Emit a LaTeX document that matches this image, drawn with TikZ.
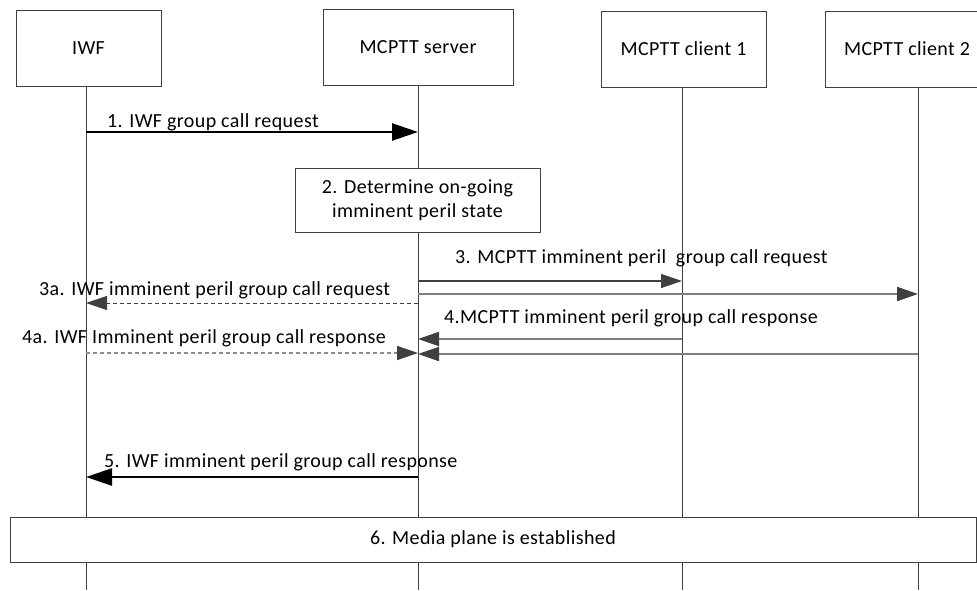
\documentclass[tikz,border=0pt]{standalone}
\usepackage{fontspec}
\setmainfont{Carlito}[LetterSpace=2]
\usepackage{tikz}
\usetikzlibrary{arrows.meta}
\definecolor{linegray}{HTML}{404040}
\definecolor{msggray}{HTML}{808080}
\definecolor{dashgray}{HTML}{8C8C8C}

\begin{document}
\begin{tikzpicture}[x=1pt, y=-1pt, every node/.style={font=\fontsize{20}{24}\selectfont},
    hdr/.style={draw=linegray, line width=1pt, fill=white, minimum height=76pt, inner sep=0pt},
    stepbox/.style={draw=linegray, line width=1pt, fill=white, align=center, inner sep=0pt},
    life/.style={draw=linegray, line width=0.9pt},
    lbl/.style={anchor=base west, inner sep=0pt},
    bigmsg/.style={line width=2.5pt, black, -{Triangle[length=26pt,width=17pt]}},
    darkmsg/.style={line width=1.3pt, linegray, -{Triangle[length=21pt,width=14pt]}},
    graymsg/.style={line width=2pt, msggray, -{Triangle[length=21pt,width=14pt,color=linegray]}},
    dashmsg/.style={line width=1pt, linegray, dash pattern=on 4pt off 3pt, -{Triangle[length=21pt,width=14pt]}},
    lightdash/.style={line width=1.5pt, dashgray, dash pattern=on 4pt off 3pt, -{Triangle[length=21pt,width=14pt,color=linegray]}}]
    \useasboundingbox (0,0) rectangle (977,590);

    % entities
    \node[hdr, minimum width=145pt] (iwfhdr) at (88.5,48) {IWF};
    \node[hdr, minimum width=190pt] (srvhdr) at (418,47) {MCPTT server};
    \node[hdr, minimum width=165pt] (c1hdr) at (683.5,49) {MCPTT client 1};
    \node[hdr, minimum width=164pt] (c2hdr) at (907,49) {MCPTT client 2};

    \coordinate (iwf) at (86,590);
    \coordinate (srv) at (418,590);
    \coordinate (c1) at (682,590);
    \coordinate (c2) at (918,590);

    % lifelines
    \draw[life] (iwfhdr.south -| iwf) -- (iwf);
    \draw[life] (srvhdr.south -| srv) -- (srv);
    \draw[life] (c1hdr.south -| c1) -- (c1);
    \draw[life] (c2hdr.south -| c2) -- (c2);

    % step 1
    \draw[bigmsg] (iwf |- 0,132) -- (srv |- 0,132);
    \node[lbl] (l1) at (107,127) {1. IWF group call request};

    % step 2
    \node[stepbox, minimum width=245pt, minimum height=64pt] (determine) at (417.5,200)
        {2. Determine on-going\\imminent peril state};

    % step 3 / 3a
    \node[lbl] (l3) at (455,263) {3. MCPTT imminent peril\ \ group call request};
    \draw[darkmsg] (srv |- 0,281) -- (c1 |- 0,281);
    \draw[graymsg] (srv |- 0,294) -- (c2 |- 0,294);
    \node[lbl] (l3a) at (39,295) {3a. IWF imminent peril group call request};
    \draw[dashmsg] (srv |- 0,303) -- (iwf |- 0,303);

    % step 4 / 4a
    \node[lbl] (l4) at (444,323) {4.MCPTT imminent peril group call response};
    \draw[graymsg] (c1 |- 0,339) -- (srv |- 0,339);
    \draw[graymsg] (c2 |- 0,354) -- (srv |- 0,354);
    \node[lbl] (l4a) at (22,343) {4a. IWF Imminent peril group call response};
    \draw[lightdash] (iwf |- 0,353) -- (srv |- 0,353);

    % step 5
    \node[lbl] (l5) at (104,467) {5. IWF imminent peril group call response};
    \draw[bigmsg] (srv |- 0,477) -- (iwf |- 0,477);

    % step 6
    \node[stepbox, minimum width=966pt, minimum height=45pt] (media) at (493,539.5)
        {6. Media plane is established};
\end{tikzpicture}
\end{document}
